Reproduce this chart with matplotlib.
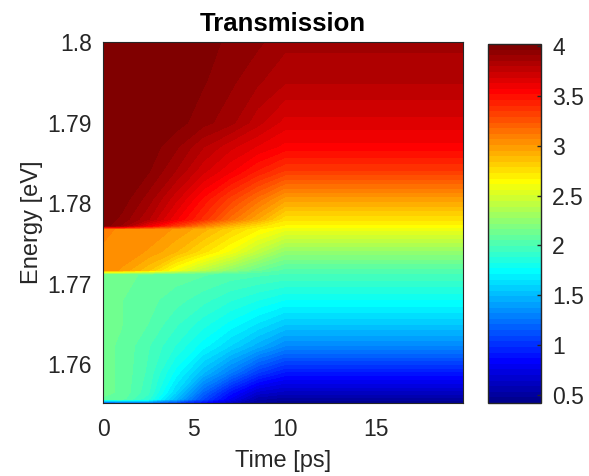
import numpy as np
import matplotlib.pyplot as plt
from matplotlib.colors import ListedColormap

plt.rcParams['font.family'] = ['Liberation Sans', 'DejaVu Sans']

# time axis [ps] and energy axis [eV]
time_ps = [0, 1, 2.5, 4, 5.5, 7, 8.5, 10, 19.8]
energy_ev = [1.7552, 1.7557, 1.7565, 1.7590, 1.7623, 1.7650, 1.7680, 1.7712, 1.7717,
             1.7740, 1.7768, 1.7772, 1.7780, 1.7805, 1.7840, 1.7870, 1.7900, 1.7950, 1.8000]

# transmission, one row per energy, one column per time
trans = [
    [1.00, 1.10, 1.20, 1.05, 0.85, 0.62, 0.47, 0.43, 0.43],
    [2.10, 2.08, 1.90, 1.50, 1.10, 0.80, 0.55, 0.50, 0.50],
    [2.12, 2.10, 1.95, 1.60, 1.20, 0.90, 0.68, 0.62, 0.62],
    [2.12, 2.10, 1.98, 1.75, 1.50, 1.28, 1.05, 0.92, 0.92],
    [2.12, 2.10, 2.00, 1.88, 1.74, 1.60, 1.46, 1.32, 1.32],
    [2.12, 2.11, 2.05, 1.95, 1.85, 1.75, 1.65, 1.55, 1.55],
    [2.12, 2.11, 2.07, 2.02, 1.96, 1.89, 1.83, 1.77, 1.77],
    [2.13, 2.12, 2.10, 2.08, 2.06, 2.03, 2.01, 1.99, 1.99],
    [3.06, 3.00, 2.85, 2.60, 2.40, 2.25, 2.12, 2.03, 2.03],
    [3.06, 3.05, 3.00, 2.90, 2.75, 2.60, 2.42, 2.26, 2.26],
    [3.07, 3.06, 3.05, 3.00, 2.92, 2.80, 2.68, 2.58, 2.58],
    [4.00, 3.90, 3.60, 3.35, 3.10, 2.90, 2.75, 2.66, 2.66],
    [4.00, 3.95, 3.80, 3.58, 3.38, 3.15, 2.95, 2.74, 2.74],
    [4.00, 4.00, 3.88, 3.70, 3.50, 3.32, 3.15, 2.98, 2.98],
    [4.00, 4.00, 3.97, 3.85, 3.70, 3.58, 3.45, 3.34, 3.34],
    [4.00, 4.00, 4.00, 3.92, 3.80, 3.70, 3.62, 3.55, 3.55],
    [4.00, 4.00, 4.00, 3.99, 3.93, 3.87, 3.76, 3.66, 3.66],
    [4.00, 4.00, 4.00, 4.00, 3.97, 3.92, 3.86, 3.80, 3.80],
    [4.00, 4.00, 4.00, 4.00, 3.99, 3.95, 3.92, 3.87, 3.87],
]

cbar_ticks = [0.5, 1, 1.5, 2, 2.5, 3, 3.5, 4]
cbar_labels = ['0.5', '1', '1.5', '2', '2.5', '3', '3.5', '4']


def matlab_jet(m=64):
    # same construction as matlab's jet(m)
    n = int(np.ceil(m / 4))
    u = np.concatenate([np.arange(1, n + 1) / n, np.ones(n - 1), np.arange(n, 0, -1) / n])
    g = int(np.ceil(n / 2)) - (1 if m % 4 == 1 else 0) + np.arange(1, len(u) + 1)
    r = g + n
    b = g - n
    J = np.zeros((m, 3))
    for col, idx in ((0, r), (1, g), (2, b)):
        ok = (idx >= 1) & (idx <= m)
        J[idx[ok] - 1, col] = u[ok]
    return ListedColormap(J)


gray = '#262626'
fig = plt.figure(figsize=(5.89, 4.76), dpi=100)
ax = fig.add_axes([103 / 589, 1 - 403 / 476, 360 / 589, 361 / 476])
cax = fig.add_axes([488 / 589, 1 - 403 / 476, 53 / 589, 359 / 476])

levels = np.linspace(0.42, 4.02, 65)
cs = ax.contourf(time_ps, energy_ev, np.array(trans), levels=levels, cmap=matlab_jet(64),
                 vmin=0.42, vmax=4.02)

ax.set_xlim(0, 19.8)
ax.set_ylim(1.7552, 1.8)
ax.set_xticks([0, 5, 10, 15])
ax.set_yticks([1.76, 1.77, 1.78, 1.79, 1.8])
ax.set_yticklabels(['1.76', '1.77', '1.78', '1.79', '1.8'])
ax.tick_params(direction='in', length=0, labelsize=16.5, colors=gray)
ax.tick_params(axis='x', pad=11)
ax.tick_params(axis='y', pad=8)
for s in ax.spines.values():
    s.set_color(gray)
    s.set_linewidth(0.8)

ax.set_xlabel('Time [ps]', fontsize=17, color=gray, labelpad=6)
ax.set_ylabel('Energy [eV]', fontsize=17, color=gray, labelpad=3)
ax.set_title('Transmission', fontsize=18.5, fontweight='bold', pad=8)

cb = fig.colorbar(cs, cax=cax, ticks=cbar_ticks)
cb.set_ticklabels(cbar_labels)
cax.tick_params(direction='in', length=3, width=1, labelsize=16.5, colors=gray, pad=8)
cb.outline.set_edgecolor(gray)
cb.outline.set_linewidth(1)

fig.savefig('out.png', dpi=100)
